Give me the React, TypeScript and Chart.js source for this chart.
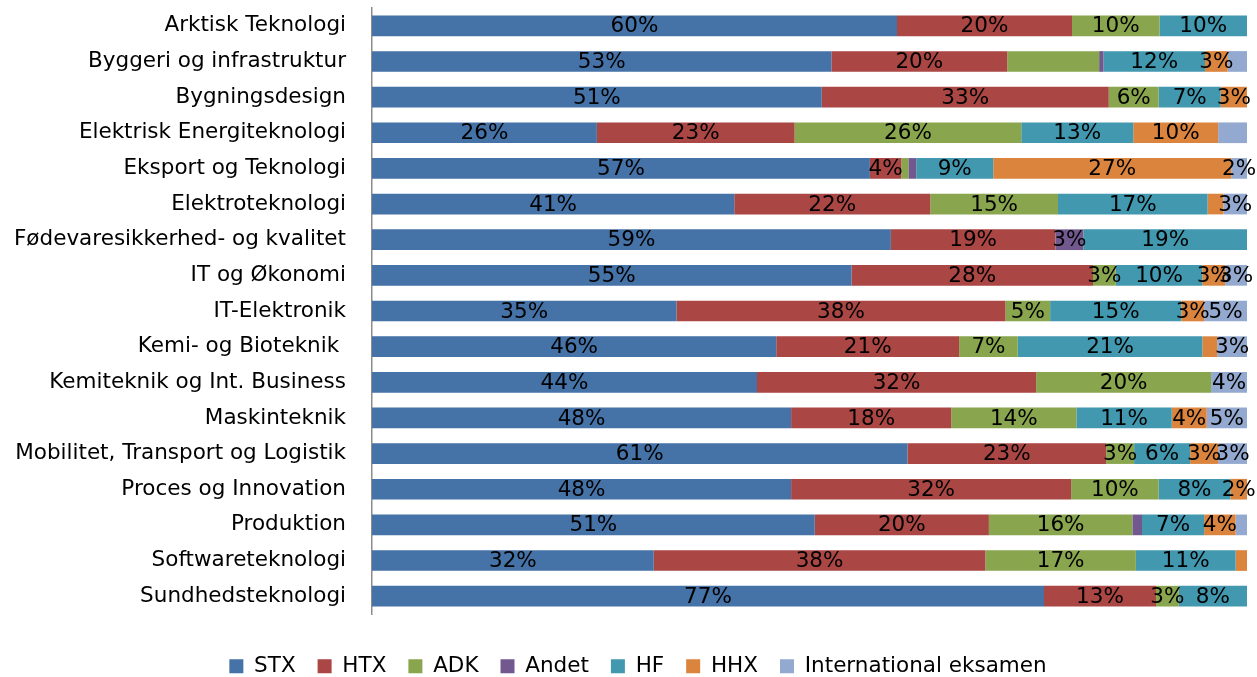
import React, { useEffect, useRef } from "react";
import { Chart, registerables } from "chart.js";

Chart.register(...registerables);

const categories = [
  "Arktisk Teknologi",
  "Byggeri og infrastruktur",
  "Bygningsdesign",
  "Elektrisk Energiteknologi",
  "Eksport og Teknologi",
  "Elektroteknologi",
  "Fødevaresikkerhed- og kvalitet",
  "IT og Økonomi",
  "IT-Elektronik",
  "Kemi- og Bioteknik ",
  "Kemiteknik og Int. Business",
  "Maskinteknik",
  "Mobilitet, Transport og Logistik",
  "Proces og Innovation",
  "Produktion",
  "Softwareteknologi",
  "Sundhedsteknologi",
];

const seriesNames = ["STX", "HTX", "ADK", "Andet", "HF", "HHX", "International eksamen"];

const stx = [60, 52.5, 51.4, 25.7, 56.9, 41.4, 59.3, 54.8, 34.8, 46.2, 44.0, 47.9, 61.2, 47.9, 50.6, 32.2, 76.8];
const htx = [20, 20.1, 32.8, 22.6, 3.6, 22.4, 18.8, 27.6, 37.6, 20.9, 31.9, 18.3, 22.7, 32.0, 19.9, 37.9, 12.8];
const adk = [10, 10.5, 5.7, 25.9, 0.8, 14.6, 0, 2.6, 5.1, 6.7, 20.0, 14.3, 3.2, 10.0, 16.4, 17.2, 2.6];
const andet = [0, 0.5, 0, 0, 0.9, 0, 3.2, 0, 0, 0, 0, 0, 0, 0, 1.1, 0, 0];
const hf = [10, 11.6, 7.1, 12.8, 8.8, 17.1, 18.7, 9.9, 15.0, 21.1, 0, 10.9, 6.4, 8.2, 7.1, 11.4, 7.8];
const hhx = [0, 2.6, 3.0, 9.7, 27.2, 1.8, 0, 2.6, 2.6, 1.7, 0, 4.0, 3.2, 1.9, 3.6, 1.3, 0];
const intl = [0, 2.2, 0, 3.3, 1.8, 2.7, 0, 2.5, 4.9, 3.4, 4.1, 4.6, 3.3, 0, 1.3, 0, 0];

const seriesValues = [stx, htx, adk, andet, hf, hhx, intl];
const seriesColors = ["#4572A7", "#AA4643", "#89A54E", "#71588F", "#4198AF", "#DB843D", "#93A9CF"];

// segments whose value label is not shown in the original
const hiddenLabels = [
  "Byggeri og infrastruktur|ADK",
  "Byggeri og infrastruktur|Andet",
  "Byggeri og infrastruktur|International eksamen",
  "Elektrisk Energiteknologi|International eksamen",
  "Eksport og Teknologi|ADK",
  "Eksport og Teknologi|Andet",
  "Elektroteknologi|HHX",
  "Kemi- og Bioteknik |HHX",
  "Produktion|Andet",
  "Produktion|International eksamen",
  "Softwareteknologi|HHX",
];

const FONT = "'DejaVu Sans', sans-serif";
const FS = 21.5;

const valueLabelPlugin = {
  id: "valueLabels",
  afterDatasetsDraw(chart: any) {
    const ctx = chart.ctx;
    ctx.save();
    ctx.font = `${FS}px ${FONT}`;
    ctx.fillStyle = "#000";
    ctx.textAlign = "center";
    ctx.textBaseline = "middle";
    chart.data.datasets.forEach((ds: any, d: number) => {
      const meta = chart.getDatasetMeta(d);
      meta.data.forEach((el: any, i: number) => {
        const v = ds.data[i];
        if (!v || v <= 0) return;
        if (hiddenLabels.includes(`${categories[i]}|${ds.label}`)) return;
        const { x, base, y } = el.getProps(["x", "base", "y"], true);
        ctx.fillText(`${Math.round(v)}%`, (x + base) / 2, y + 1);
      });
    });
    ctx.restore();
  },
};

export default function App() {
  const ref = useRef<HTMLCanvasElement>(null);
  useEffect(() => {
    document.body.style.overflow = "hidden";
    const chart = new Chart(ref.current!, {
      type: "bar",
      data: {
        labels: categories,
        datasets: seriesNames.map((name, k) => ({
          label: name,
          data: seriesValues[k],
          backgroundColor: seriesColors[k],
          borderWidth: 0,
          barPercentage: 0.58,
          categoryPercentage: 1,
        })),
      },
      options: {
        indexAxis: "y",
        responsive: false,
        animation: false,
        layout: { padding: { top: 8, right: 10, left: 29, bottom: 0 } },
        plugins: {
          legend: {
            position: "bottom",
            labels: {
              boxWidth: 14,
              boxHeight: 14,
              padding: 22,
              color: "#000",
              font: { family: FONT, size: FS },
            },
          },
          tooltip: { enabled: false },
        },
        scales: {
          x: {
            stacked: true,
            min: 0,
            max: 100,
            display: true,
            grid: { display: false, drawTicks: false },
            border: { display: false },
            ticks: { display: false },
            afterFit(scale: any) {
              scale.height = 19.5;
            },
          },
          y: {
            stacked: true,
            grid: { display: false, drawTicks: false },
            border: { display: true, color: "#8c8c8c", width: 1.5 },
            ticks: {
              padding: 26,
              color: "#000",
              font: { family: FONT, size: FS },
              autoSkip: false,
            },
            afterFit(scale: any) {
              scale.width = 343;
              scale.paddingTop = 0;
              scale.paddingBottom = 0;
              // let long category labels extend left of the scale box
              scale._computeLabelArea = () => undefined;
            },
          },
        },
      },
      plugins: [valueLabelPlugin],
    });
    return () => chart.destroy();
  }, []);
  return (
    <canvas
      ref={ref}
      width={1257}
      height={687}
      style={{ position: "fixed", left: 0, top: 0, display: "block" }}
    />
  );
}
